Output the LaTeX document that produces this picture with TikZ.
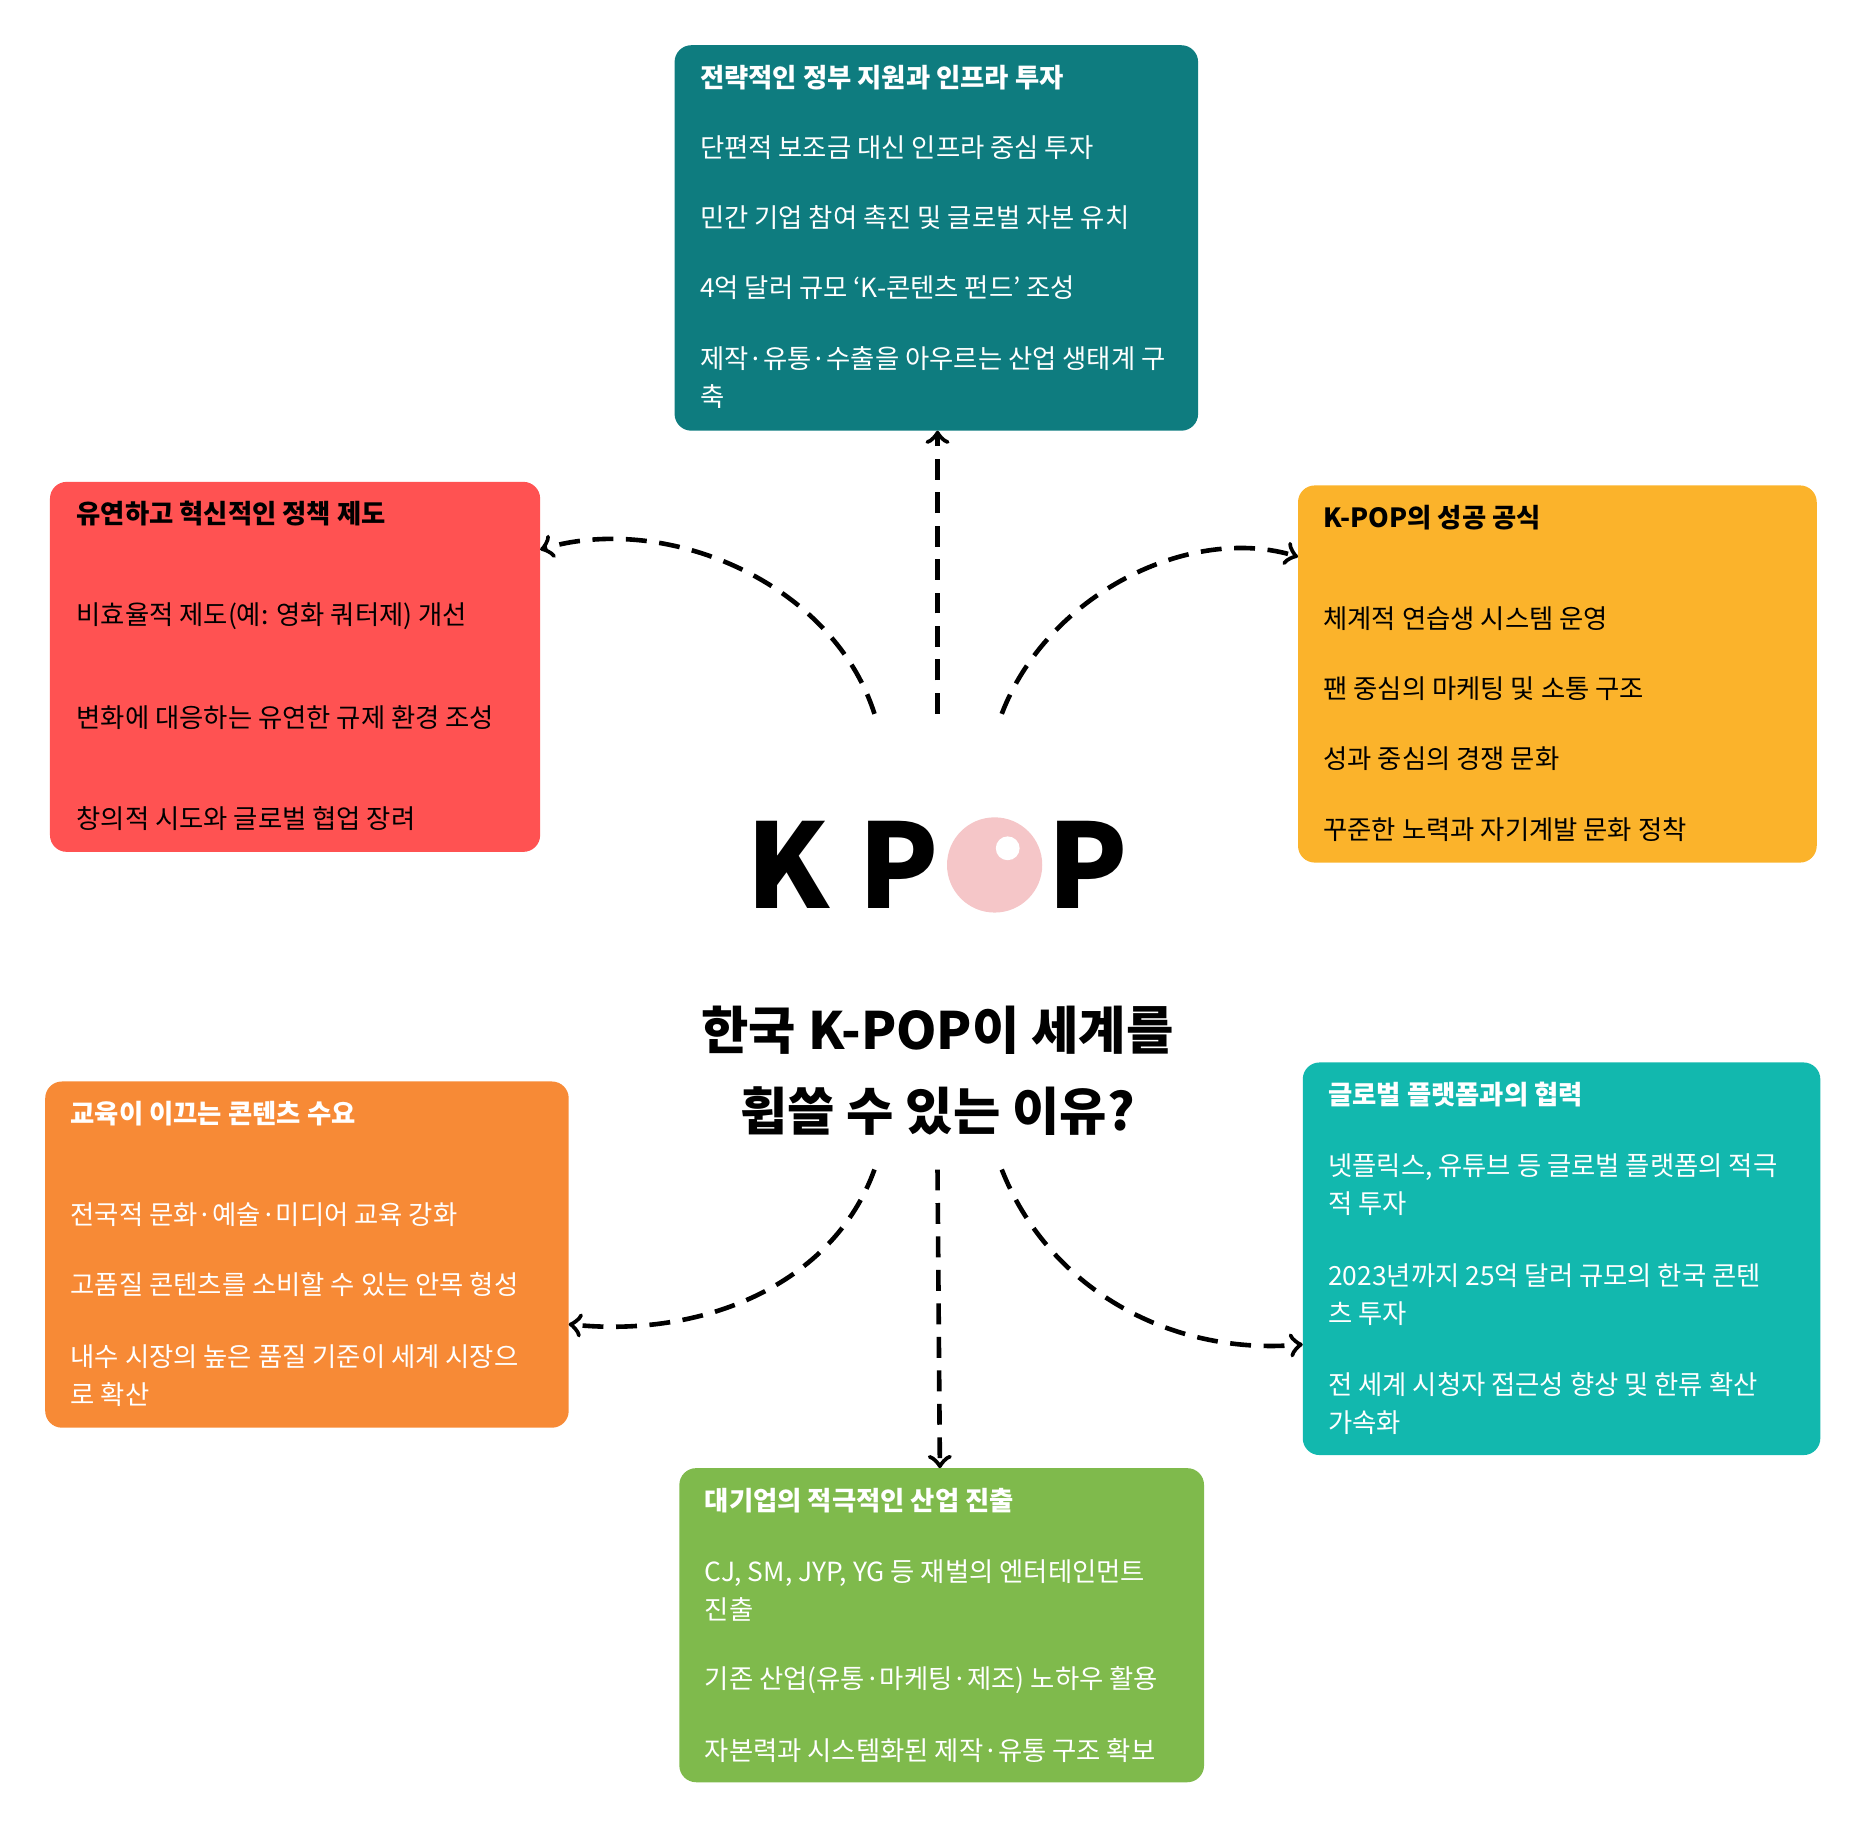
\documentclass[tikz,border=0pt]{standalone}
\usepackage{fontspec}
\setmainfont{Noto Sans CJK KR}
\usetikzlibrary{arrows,positioning,shapes}

\definecolor{tealbox}{HTML}{0E7C7F}
\definecolor{redbox}{HTML}{FF5252}
\definecolor{yellowbox}{HTML}{FBB32B}
\definecolor{orangebox}{HTML}{F78A36}
\definecolor{aquabox}{HTML}{12B8AE}
\definecolor{greenbox}{HTML}{7FBA4C}
\definecolor{pinkball}{HTML}{F5C6C8}

\begin{document}
\begin{tikzpicture}[x=0.01cm,y=-0.01cm,>=to,thick]
\tikzstyle{card}=[rounded corners=4pt]
\tikzstyle{head}=[anchor=west,inner sep=0pt,font=\fontsize{6.3}{9.1}\selectfont\bfseries,align=left]
\tikzstyle{item}=[anchor=west,inner sep=0pt,font=\fontsize{6.3}{9.1}\selectfont,align=left]
\tikzstyle{link}=[->,dashed,line width=1.1pt,dash pattern=on 5pt off 3pt]

\useasboundingbox (0,0) rectangle (1560,1542);

% cards
\fill[card,tealbox]   (567,38)   rectangle (1007,362);
\fill[card,redbox]    (42,405)   rectangle (454,716);
\fill[card,yellowbox] (1091,408) rectangle (1527,725);
\fill[card,orangebox] (38,909)   rectangle (478,1200);
\fill[card,aquabox]   (1095,893) rectangle (1530,1223);
\fill[card,greenbox]  (571,1234) rectangle (1012,1498);

\coordinate (gov)  at (788,362);
\coordinate (pol)  at (454,462);
\coordinate (fml)  at (1091,468);
\coordinate (edu)  at (478,1113);
\coordinate (plt)  at (1095,1130);
\coordinate (biz)  at (790,1234);

% top card
\node[head,white] (G0) at (587,65)  {전략적인 정부 지원과 인프라 투자};
\node[item,white] (G1) at (587,124) {단편적 보조금 대신 인프라 중심 투자};
\node[item,white] (G2) at (587,183) {민간 기업 참여 촉진 및 글로벌 자본 유치};
\node[item,white] (G3) at (587,242) {4억 달러 규모 ‘K-콘텐츠 펀드’ 조성};
\node[item,white] (G4) at (587,317) {제작·유통·수출을 아우르는 산업 생태계 구\\축};

% left red card
\node[head] (P0) at (63,432) {유연하고 혁신적인 정책 제도};
\node[item] (P1) at (63,518) {비효율적 제도(예: 영화 쿼터제) 개선};
\node[item] (P2) at (63,603) {변화에 대응하는 유연한 규제 환경 조성};
\node[item] (P3) at (63,688) {창의적 시도와 글로벌 협업 장려};

% right yellow card
\node[head] (F0) at (1111,435) {K-POP의 성공 공식};
\node[item] (F1) at (1111,520) {체계적 연습생 시스템 운영};
\node[item] (F2) at (1111,579) {팬 중심의 마케팅 및 소통 구조};
\node[item] (F3) at (1111,638) {성과 중심의 경쟁 문화};
\node[item] (F4) at (1111,697) {꾸준한 노력과 자기계발 문화 정착};

% left orange card
\node[head,white] (E0) at (58,936)  {교육이 이끄는 콘텐츠 수요};
\node[item,white] (E1) at (58,1021) {전국적 문화·예술·미디어 교육 강화};
\node[item,white] (E2) at (58,1080) {고품질 콘텐츠를 소비할 수 있는 안목 형성};
\node[item,white] (E3) at (58,1156) {내수 시장의 높은 품질 기준이 세계 시장으\\로 확산};

% right aqua card
\node[head,white] (T0) at (1115,920)  {글로벌 플랫폼과의 협력};
\node[item,white] (T1) at (1115,996)  {넷플릭스, 유튜브 등 글로벌 플랫폼의 적극\\적 투자};
\node[item,white] (T2) at (1115,1088) {2023년까지 25억 달러 규모의 한국 콘텐\\츠 투자};
\node[item,white] (T3) at (1115,1180) {전 세계 시청자 접근성 향상 및 한류 확산\\가속화};

% bottom green card
\node[head,white] (B0) at (591,1261) {대기업의 적극적인 산업 진출};
\node[item,white] (B1) at (591,1337) {CJ, SM, JYP, YG 등 재벌의 엔터테인먼트\\진출};
\node[item,white] (B2) at (591,1412) {기존 산업(유통·마케팅·제조) 노하우 활용};
\node[item,white] (B3) at (591,1471) {자본력과 시스템화된 제작·유통 구조 확보};

% centre logo and title
\node[font=\fontsize{28}{28}\selectfont\bfseries] (k)  at (662,727) {K};
\node[font=\fontsize{28}{28}\selectfont\bfseries] (p1) at (755,727) {P};
\node[circle,fill=pinkball,minimum size=0.8cm,inner sep=0] (o) at (836,727) {};
\node[circle,fill=white,minimum size=0.2cm,inner sep=0] (oh) at (847,713) {};
\node[font=\fontsize{28}{28}\selectfont\bfseries] (p2) at (914,727) {P};
\node[font=\fontsize{12.3}{19.3}\selectfont\bfseries,align=center] (title) at (788,900)
  {한국 K-POP이 세계를\\휩쓸 수 있는 이유?};

\coordinate (s1) at (735,600);
\coordinate (s2) at (788,600);
\coordinate (s3) at (842,600);
\coordinate (s4) at (735,983);
\coordinate (s5) at (788,983);
\coordinate (s6) at (842,983);

% connectors
\draw[link] (s1) .. controls (700,490) and (560,430) .. (pol);
\draw[link] (s2) -- (gov);
\draw[link] (s3) .. controls (880,500) and (1000,440) .. (fml);
\draw[link] (s4) .. controls (700,1080) and (590,1125) .. (edu);
\draw[link] (s5) -- (biz);
\draw[link] (s6) .. controls (880,1080) and (980,1140) .. (plt);
\end{tikzpicture}
\end{document}
